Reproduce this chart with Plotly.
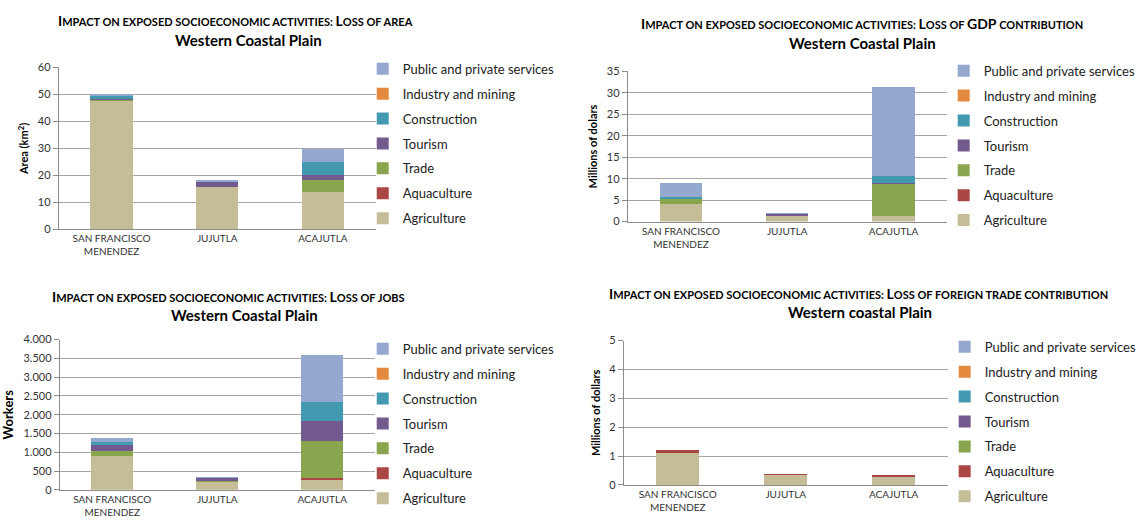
import plotly.graph_objects as go

W, H = 1142, 530
FONT = "Lato"

municipalities = ["SAN FRANCISCO<br>MENENDEZ", "JUJUTLA", "ACAJUTLA"]
sectors = ["Agriculture", "Aquaculture", "Trade", "Tourism", "Construction",
           "Industry and mining", "Public and private services"]
colors = ["#C4BD97", "#AA4643", "#89A54E", "#725A8E", "#4299B0", "#E38A3F", "#95A8D0"]

# Loss of area (km2), one list per sector: [San Francisco Menendez, Jujutla, Acajutla]
area_agriculture = [47.5, 15.7, 13.8]
area_aquaculture = [0.0, 0.0, 0.0]
area_trade = [0.6, 0.1, 4.5]
area_tourism = [0.4, 1.9, 2.0]
area_construction = [0.8, 0.0, 4.6]
area_industry = [0.0, 0.0, 0.0]
area_services = [0.5, 0.3, 4.8]

# Loss of GDP contribution (millions of dollars)
gdp_agriculture = [4.1, 1.4, 1.2]
gdp_aquaculture = [0.0, 0.0, 0.0]
gdp_trade = [1.3, 0.0, 7.5]
gdp_tourism = [0.0, 0.3, 0.4]
gdp_construction = [0.25, 0.0, 1.6]
gdp_industry = [0.0, 0.0, 0.0]
gdp_services = [3.4, 0.1, 20.7]

# Loss of jobs (workers)
jobs_agriculture = [910, 220, 290]
jobs_aquaculture = [0, 0, 20]
jobs_trade = [115, 10, 1000]
jobs_tourism = [170, 100, 520]
jobs_construction = [80, 0, 500]
jobs_industry = [0, 0, 0]
jobs_services = [105, 15, 1250]

# Loss of foreign trade contribution (millions of dollars)
trade_agriculture = [1.15, 0.38, 0.32]
trade_aquaculture = [0.05, 0.01, 0.04]
trade_trade = [0.0, 0.0, 0.0]
trade_tourism = [0.0, 0.0, 0.0]
trade_construction = [0.0, 0.0, 0.0]
trade_industry = [0.0, 0.0, 0.0]
trade_services = [0.0, 0.0, 0.0]

area_ticks = [0, 10, 20, 30, 40, 50, 60]
gdp_ticks = [0, 5, 10, 15, 20, 25, 30, 35]
jobs_ticks = [0, 500, 1000, 1500, 2000, 2500, 3000, 3500, 4000]
jobs_tick_labels = ["0", "500", "1.000", "1.500", "2.000", "2.500", "3.000", "3.500", "4.000"]
trade_ticks = [0, 1, 2, 3, 4, 5]

panels = [
    dict(series=[area_agriculture, area_aquaculture, area_trade, area_tourism,
                 area_construction, area_industry, area_services],
         title="Impact on exposed socioeconomic activities: Loss of area",
         subtitle="Western Coastal Plain", ytitle="Area (km<sup>2</sup>)", ytitle_size=11,
         ticks=area_ticks, ticktext=[str(t) for t in area_ticks], rng=[0, 60],
         box=(59, 377, 62, 228), legend=(364, 48), t1=(236, 14), t2=(249, 34)),
    dict(series=[gdp_agriculture, gdp_aquaculture, gdp_trade, gdp_tourism,
                 gdp_construction, gdp_industry, gdp_services],
         title="Impact on exposed socioeconomic activities: Loss of GDP contribution",
         subtitle="Western Coastal Plain", ytitle="Millions of dolars", ytitle_size=11,
         ticks=gdp_ticks, ticktext=[str(t) for t in gdp_ticks], rng=[0, 35],
         box=(630, 950, 66, 220), legend=(947, 50), t1=(865, 17), t2=(866, 37)),
    dict(series=[jobs_agriculture, jobs_aquaculture, jobs_trade, jobs_tourism,
                 jobs_construction, jobs_industry, jobs_services],
         title="Impact on exposed socioeconomic activities: Loss of jobs",
         subtitle="Western Coastal Plain", ytitle="Workers", ytitle_size=13,
         ticks=jobs_ticks, ticktext=jobs_tick_labels, rng=[0, 4000],
         box=(60, 376, 341, 495), legend=(364, 335), t1=(229, 297), t2=(245, 316)),
    dict(series=[trade_agriculture, trade_aquaculture, trade_trade, trade_tourism,
                 trade_construction, trade_industry, trade_services],
         title="Impact on exposed socioeconomic activities: Loss of foreign trade contribution",
         subtitle="Western coastal Plain", ytitle="Millions of dollars", ytitle_size=11,
         ticks=trade_ticks, ticktext=[str(t) for t in trade_ticks], rng=[0, 5],
         box=(626, 951, 342, 490), legend=(948, 333), t1=(862, 294), t2=(863, 313)),
]


def px_x(x):
    return x / W


def px_y(y):
    return 1 - y / H


def small_caps(text, big=14, small=11):
    out = []
    for ch in text:
        if ch.isupper():
            out.append(f'<span style="font-size:{big}px">{ch}</span>')
        else:
            out.append(ch.upper())
    return f'<span style="font-size:{small}px">' + "".join(out) + "</span>"


fig = go.Figure()
layout = dict(
    width=W, height=H, margin=dict(l=0, r=0, t=0, b=0),
    paper_bgcolor="white", plot_bgcolor="white",
    font=dict(family=FONT, color="#000000"),
    barmode="stack", bargap=0.6, showlegend=True, annotations=[],
)

for i, p in enumerate(panels):
    n = i + 1
    xa = "x" if n == 1 else f"x{n}"
    ya = "y" if n == 1 else f"y{n}"
    lg = "legend" if n == 1 else f"legend{n}"
    for k, (name, vals, col) in enumerate(zip(sectors, p["series"], colors)):
        fig.add_trace(go.Bar(
            x=municipalities, y=vals, name=name, marker=dict(color=col, line=dict(width=0)),
            xaxis=xa, yaxis=ya, legend=lg, legendgroup=f"{n}-{name}",
            legendrank=100 - k,
        ))
    x0, x1, y0, y1 = p["box"]
    layout["xaxis" if n == 1 else f"xaxis{n}"] = dict(
        domain=[px_x(x0), px_x(x1)], anchor=ya, showgrid=False,
        showline=True, linecolor="#8C8C8C", linewidth=1, ticks="",
        tickfont=dict(size=10, color="#333333"), fixedrange=True,
    )
    layout["yaxis" if n == 1 else f"yaxis{n}"] = dict(
        domain=[px_y(y1), px_y(y0)], anchor=xa, range=p["rng"],
        tickvals=p["ticks"], ticktext=p["ticktext"],
        showgrid=True, gridcolor="#A6A6A6", gridwidth=1,
        showline=True, linecolor="#8C8C8C", linewidth=1,
        ticks="outside", ticklen=5, tickcolor="#8C8C8C",
        tickfont=dict(size=11, color="#333333"), zeroline=False,
        title=dict(text=f"<b>{p['ytitle']}</b>", font=dict(size=p["ytitle_size"]), standoff=6),
    )
    lx, ly = p["legend"]
    layout[lg] = dict(
        x=px_x(lx), y=px_y(ly), xanchor="left", yanchor="top",
        traceorder="grouped", tracegroupgap=5,
        font=dict(size=13, color="#222222"), bgcolor="rgba(0,0,0,0)",
        itemclick=False, itemdoubleclick=False,
    )
    tx, ty = p["t1"]
    layout["annotations"].append(dict(
        text="<b>" + small_caps(p["title"]) + "</b>", x=px_x(tx), y=px_y(ty),
        xref="paper", yref="paper", xanchor="center", yanchor="middle",
        showarrow=False, font=dict(size=11),
    ))
    sx, sy = p["t2"]
    layout["annotations"].append(dict(
        text="<b>" + p["subtitle"] + "</b>", x=px_x(sx), y=px_y(sy),
        xref="paper", yref="paper", xanchor="center", yanchor="middle",
        showarrow=False, font=dict(size=15),
    ))

fig.update_layout(**layout)
fig.write_html("out.html")
